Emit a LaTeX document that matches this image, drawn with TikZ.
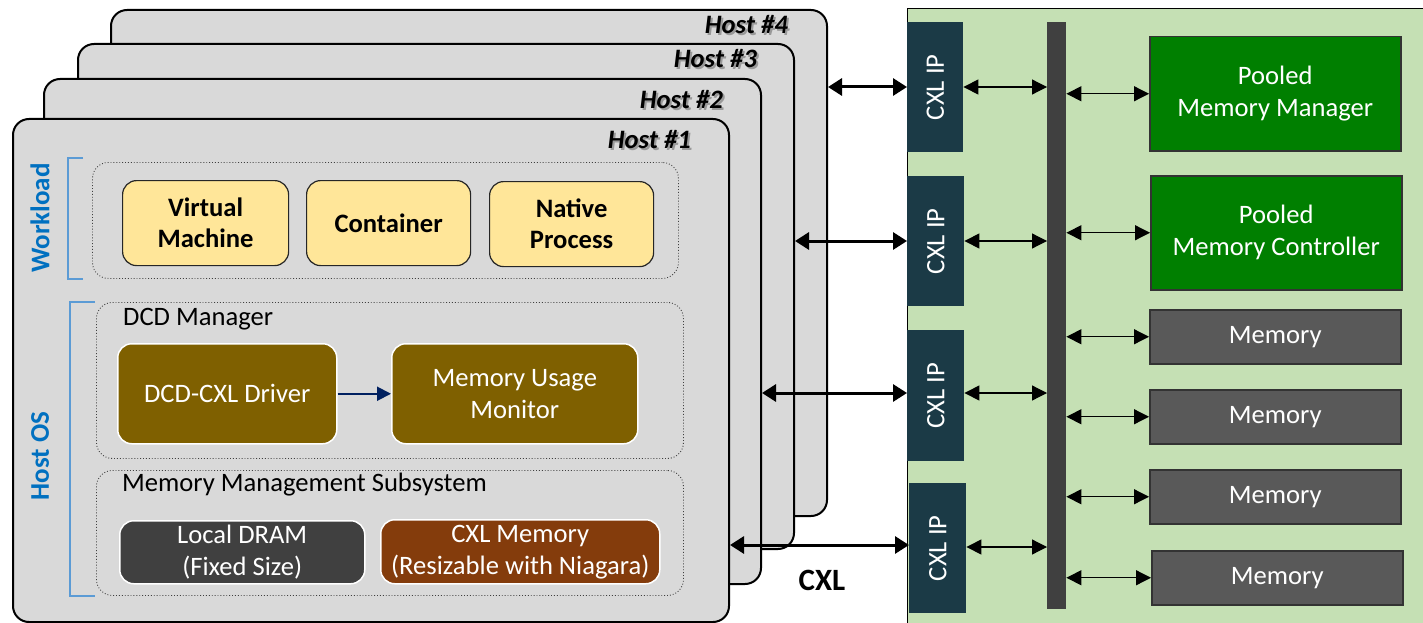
\documentclass[tikz,border=0pt]{standalone}
\usepackage{fontspec}
\setmainfont{Carlito}
\usetikzlibrary{arrows.meta,positioning}

\definecolor{hostgray}{HTML}{D9D9D9}
\definecolor{wlyellow}{HTML}{FFE699}
\definecolor{dcdolive}{HTML}{7F6000}
\definecolor{cxlbrown}{HTML}{843C0C}
\definecolor{dramgray}{HTML}{404040}
\definecolor{poolgreen}{HTML}{C5E0B4}
\definecolor{ipteal}{HTML}{1B3A46}
\definecolor{mgrgreen}{HTML}{007F00}
\definecolor{memgray}{HTML}{595959}
\definecolor{labelblue}{HTML}{0070C0}
\definecolor{bracketblue}{HTML}{5B9BD5}
\definecolor{navy}{HTML}{002060}

\tikzset{
  txt/.style={font=\fontsize{26.6}{32}\selectfont},
  hostbox/.style={draw=black, line width=2pt, fill=hostgray, rounded corners=16pt, anchor=north west, inner sep=0pt},
  hostlbl/.style={font=\fontsize{26.6}{32}\selectfont\bfseries\itshape, anchor=east, inner sep=0pt},
  groupbox/.style={draw=black!75, dotted, line width=0.9pt, rounded corners=16pt, anchor=north west, inner sep=0pt},
  wlbox/.style={font=\fontsize{26.6}{31}\selectfont\bfseries, draw=black!85, line width=1.2pt, fill=wlyellow, rounded corners=14pt, align=center, anchor=north west, inner sep=0pt},
  osbox/.style={txt, text=white, draw=white, line width=1.5pt, rounded corners=14pt, align=center, anchor=north west, inner sep=0pt},
  ipbox/.style={fill=ipteal, anchor=north west, inner sep=0pt},
  rbox/.style={txt, text=white, draw=black!80, line width=1.5pt, align=center, anchor=north west, inner sep=0pt},
  sidelbl/.style={font=\fontsize{27}{32}\selectfont\bfseries, text=labelblue, rotate=90},
  bracket/.style={draw=bracketblue, line width=2pt},
  bigarrow/.style={line width=3pt, {Triangle[length=14pt,width=17pt]}-{Triangle[length=14pt,width=17pt]}},
  thinarrow/.style={line width=1.2pt, {Triangle[length=15pt,width=15pt]}-{Triangle[length=15pt,width=15pt]}},
}

\begin{document}
\begin{tikzpicture}[x=1pt, y=-1pt]
\useasboundingbox (0,0) rectangle (1423,623);

% ---- stacked hosts, back to front ----
\node[hostbox, minimum width=716, minimum height=506] (h4) at (110,9) {};
\node[hostlbl, text=black!40] (h4s) at (790,27) {Host \#4};
\node[hostlbl] (h4l) at (788,25) {Host \#4};
\node[hostbox, minimum width=716, minimum height=505] (h3) at (77,43) {};
\node[hostlbl, text=black!40] (h3s) at (759,61) {Host \#3};
\node[hostlbl] (h3l) at (757,59) {Host \#3};
\node[hostbox, minimum width=717, minimum height=505] (h2) at (43,78) {};
\node[hostlbl, text=black!40] (h2s) at (725,102) {Host \#2};
\node[hostlbl] (h2l) at (723,100) {Host \#2};
\node[hostbox, minimum width=716, minimum height=503] (h1) at (12,118) {};
\node[hostlbl, text=black!40] (h1s) at (693,142) {Host \#1};
\node[hostlbl] (h1l) at (691,140) {Host \#1};

% ---- workload group ----
\draw[bracket] (83,158) -- (68,158) -- (68,279) -- (83,279);
\node[sidelbl] (wl) at (40,218) {Workload};
\node[groupbox, minimum width=586, minimum height=116] (wlg) at (92,162) {};
\node[wlbox, minimum width=166, minimum height=85] (vm) at (122,180) {Virtual\\Machine};
\node[wlbox, minimum width=164, minimum height=85] (ct) at (306,180) {Container};
\node[wlbox, minimum width=164, minimum height=85] (np) at (489,181) {Native\\Process};

% ---- host OS group ----
\draw[bracket] (95,302) -- (70,302) -- (70,596) -- (95,596);
\node[sidelbl] (os) at (40,456) {Host OS};

\node[groupbox, minimum width=587, minimum height=156] (dcd) at (96,302) {};
\node[txt, anchor=west, inner sep=0pt] (dcdl) at (123,319) {DCD Manager};
\node[osbox, fill=dcdolive, minimum width=219, minimum height=100] (drv) at (117,343) {DCD-CXL Driver};
\node[osbox, fill=dcdolive, minimum width=246, minimum height=100] (mon) at (391,343) {Memory Usage\\Monitor};
\draw[draw=navy, line width=2pt, -{Triangle[length=14pt,width=14pt]}] (drv.east) -- (mon.west);

\node[groupbox, minimum width=587, minimum height=125] (mms) at (96,470) {};
\node[txt, anchor=west, inner sep=0pt] (mmsl) at (122,485) {Memory Management Subsystem};
\node[osbox, fill=dramgray, minimum width=245, minimum height=63] (dram) at (119,520) {Local DRAM\\(Fixed Size)};
\node[osbox, fill=cxlbrown, minimum width=279, minimum height=64] (cxlm) at (380,519) {CXL Memory\\(Resizable with Niagara)};

% ---- pooled memory device ----
\fill[poolgreen] (907,9) rectangle (1430,630);
\draw[black, line width=1pt] (907,630) -- (907,9) -- (1430,9);

\node[ipbox, minimum width=56, minimum height=130] (ip1) at (907,22) {};
\node[txt, text=white, rotate=90] (ip1t) at (ip1.center) {CXL IP};
\node[ipbox, minimum width=57, minimum height=130] (ip2) at (907,176) {};
\node[txt, text=white, rotate=90] (ip2t) at (ip2.center) {CXL IP};
\node[ipbox, minimum width=57, minimum height=131] (ip3) at (907,330) {};
\node[txt, text=white, rotate=90] (ip3t) at (ip3.center) {CXL IP};
\node[ipbox, minimum width=57, minimum height=130] (ip4) at (909,483) {};
\node[txt, text=white, rotate=90] (ip4t) at (ip4.center) {CXL IP};

\node[fill=dramgray, minimum width=19, minimum height=587, anchor=north west, inner sep=0pt] (bus) at (1047,22) {};

\node[rbox, fill=mgrgreen, minimum width=251, minimum height=114] (pmm) at (1149,36) {Pooled\\Memory Manager};
\node[rbox, fill=mgrgreen, minimum width=251, minimum height=114] (pmc) at (1150,175) {Pooled\\Memory Controller};
\node[rbox, fill=memgray, minimum width=251, minimum height=54] (m1) at (1149,309) {Memory};
\node[rbox, fill=memgray, minimum width=251, minimum height=54] (m2) at (1149,389) {Memory};
\node[rbox, fill=memgray, minimum width=251, minimum height=54] (m3) at (1149,469) {Memory};
\node[rbox, fill=memgray, minimum width=251, minimum height=54] (m4) at (1151,550) {Memory};

% ---- host links ----
\draw[bigarrow] (ip1.west |- 0,87) -- (h4.east |- 0,87);
\draw[bigarrow] (ip2.west |- 0,241) -- (h3.east |- 0,241);
\draw[bigarrow] (ip3.west |- 0,393) -- (h2.east |- 0,393);
\draw[bigarrow] (ip4.west |- 0,545) -- (h1.east |- 0,545);
\node[font=\fontsize{31}{36}\selectfont\bfseries] (cxl) at (822,580) {CXL};

% ---- internal links ----
\draw[thinarrow] (ip1.east |- 0,87) -- (bus.west |- 0,87);
\draw[thinarrow] (ip2.east |- 0,241) -- (bus.west |- 0,241);
\draw[thinarrow] (ip3.east |- 0,393) -- (bus.west |- 0,393);
\draw[thinarrow] (ip4.east |- 0,547) -- (bus.west |- 0,547);

\draw[thinarrow] (bus.east |- pmm.west) -- (pmm.west);
\draw[thinarrow] (bus.east |- pmc.west) -- (pmc.west);
\draw[thinarrow] (bus.east |- m1.west) -- (m1.west);
\draw[thinarrow] (bus.east |- m2.west) -- (m2.west);
\draw[thinarrow] (bus.east |- m3.west) -- (m3.west);
\draw[thinarrow] (bus.east |- m4.west) -- (m4.west);
\end{tikzpicture}
\end{document}
